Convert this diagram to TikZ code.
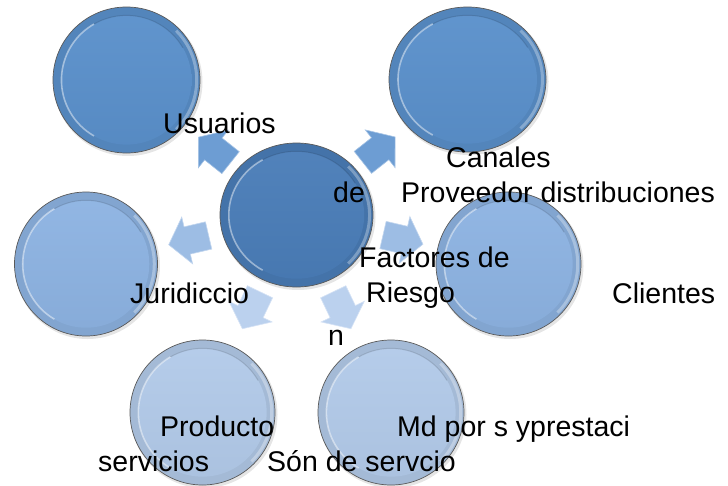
\documentclass[tikz,border=0pt]{standalone}
\usepackage{fontspec}
\setmainfont{Liberation Sans}
\usetikzlibrary{shapes.geometric}
\definecolor{cA}{HTML}{4A7DB8}
\definecolor{cB}{HTML}{5A90CB}
\definecolor{cC}{HTML}{8DB3E2}
\definecolor{cD}{HTML}{B2CAE9}
\definecolor{aB}{HTML}{6D9DD3}
\definecolor{aC}{HTML}{9DBDE4}
\definecolor{aD}{HTML}{BBD1EE}
\newcommand\bevel[4]{%
  \fill[black,opacity=0.10] ([xshift=1.5pt,yshift=-2pt]#1.center) ellipse [x radius=#2+1, y radius=#3+1];
  \fill[#4!92!black] (#1.center) ellipse [x radius=#2, y radius=#3];
  \draw[white, opacity=0.3, line width=3pt] ([shift={(-45:0.955*#2 and 0.955*#3)}]#1.center) arc [start angle=-45, end angle=45, x radius=0.955*#2, y radius=0.955*#3];
  \draw[black!65, line width=0.7pt] (#1.center) ellipse [x radius=#2, y radius=#3];
  \shade[top color=#4!96!white, bottom color=#4!96!black] (#1.center) ellipse [x radius=0.885*#2, y radius=0.885*#3];
  \draw[#4!55!black, opacity=0.3, line width=1pt] ([shift={(30:0.885*#2 and 0.885*#3)}]#1.center) arc [start angle=30, end angle=120, x radius=0.885*#2, y radius=0.885*#3];
  \draw[white, opacity=0.45, line width=1.6pt] ([shift={(120:0.885*#2 and 0.885*#3)}]#1.center) arc [start angle=120, end angle=240, x radius=0.885*#2, y radius=0.885*#3];
}
\tikzset{
  lab/.style={anchor=base west, inner sep=0pt, font=\fontsize{28.5}{34}\selectfont, text=black},
  bub/.style={ellipse, inner sep=0pt, draw=none},
  blk/.pic={\path[fill=#1, draw=#1!60!white, line width=0.6pt]
    (-20,-14) -- (2,-14) -- (2,-24) -- (21,0) -- (2,24) -- (2,14) -- (-20,14) -- cycle;}
}
\begin{document}
\begin{tikzpicture}[x=1pt,y=1pt]
\useasboundingbox (0,0) rectangle (728,-485);
% bubbles
\node[bub, minimum width=153pt, minimum height=144pt] (c0) at (296.5,-215) {};
\node[bub, minimum width=147pt, minimum height=146pt] (c1) at (126.5,-80) {};
\node[bub, minimum width=157pt, minimum height=145pt] (c2) at (467.5,-79.5) {};
\node[bub, minimum width=143pt, minimum height=144pt] (c3) at (86,-264) {};
\node[bub, minimum width=145pt, minimum height=144pt] (c4) at (508.5,-264) {};
\node[bub, minimum width=145pt, minimum height=145pt] (c5) at (202.5,-412.5) {};
\node[bub, minimum width=146pt, minimum height=145pt] (c6) at (391,-412.5) {};
\bevel{c1}{73.5}{73}{cB}
\bevel{c2}{78.5}{72.5}{cB}
\bevel{c3}{71.5}{72}{cC}
\bevel{c4}{72.5}{72}{cC}
\bevel{c5}{72.5}{72.5}{cD}
\bevel{c6}{73}{72.5}{cD}
\bevel{c0}{76.5}{72}{cA}
% arrows
\path (c0.center) -- (c1.center) coordinate[pos=0.48] (a1);
\path (c0.center) -- (c2.center) coordinate[pos=0.48] (a2);
\path (c0.center) -- (c3.center) coordinate[pos=0.51] (a3);
\path (c0.center) -- (c4.center) coordinate[pos=0.50] (a4);
\path (c0.center) -- (c5.center) coordinate[pos=0.48] (a5);
\path (c0.center) -- (c6.center) coordinate[pos=0.48] (a6);
\pic[rotate=141.5] at (a1) {blk=aB};
\pic[rotate=38.3] at (a2) {blk=aB};
\pic[rotate=193.1] at (a3) {blk=aC};
\pic[rotate=-13] at (a4) {blk=aC};
\pic[rotate=244.5] at (a5) {blk=aD};
\pic[rotate=-64.4] at (a6) {blk=aD};
% labels
\node[lab] (t1) at (163,-133) {Usuarios};
\node[lab] (t2) at (446,-167) {Canales};
\node[lab] (t3) at (333,-202) {de};
\node[lab] (t4) at (401,-202) {Proveedor distribuciones};
\node[lab] (t5) at (359,-267) {Factores de};
\node[lab] (t6) at (366,-302) {Riesgo};
\node[lab] (t7) at (612,-303) {Clientes};
\node[lab] (t8) at (130,-303) {Juridiccio};
\node[lab] (t9) at (328,-345) {n};
\node[lab] (t10) at (160,-436) {Producto};
\node[lab] (t11) at (397,-436) {Md por s yprestaci};
\node[lab] (t12) at (98,-471) {servicios};
\node[lab] (t13) at (267,-471) {Són de servcio};
\end{tikzpicture}
\end{document}
